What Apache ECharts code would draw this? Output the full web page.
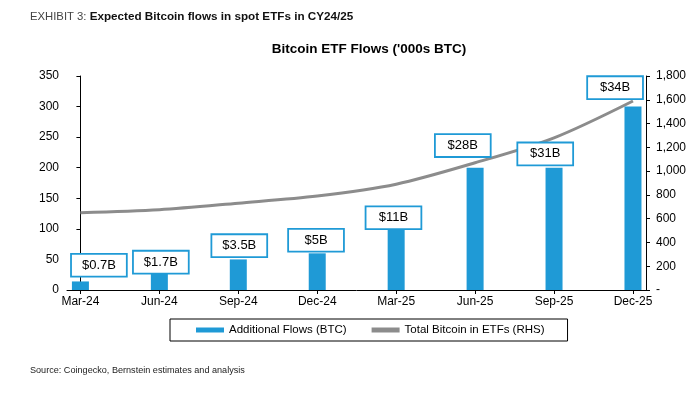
<!DOCTYPE html>
<html>
<head>
<meta charset="utf-8">
<script src="https://cdn.jsdelivr.net/npm/echarts@6/dist/echarts.min.js"></script>
<style>
  html, body { margin: 0; padding: 0; background: #fff; }
  #chart { width: 700px; height: 398px; }
</style>
</head>
<body>
<div id="chart"></div>
<script>
// data
var quarters = ['Mar-24', 'Jun-24', 'Sep-24', 'Dec-24', 'Mar-25', 'Jun-25', 'Sep-25', 'Dec-25'];
var flowsBtc = [14, 30, 50, 60, 100, 200, 200, 300];          // '000s BTC, left axis
var totalBtc = [650, 675, 730, 790, 890, 1070, 1280, 1590];    // '000s BTC, right axis
var flowsUsd = ['$0.7B', '$1.7B', '$3.5B', '$5B', '$11B', '$28B', '$31B', '$34B'];
var leftTicks = { max: 350, step: 50 };
var rightTicks = { max: 1800, step: 200 };

// where each callout box sits relative to its bar (px)
var calloutShift = [[18.5, -5.7], [1.5, 1], [1, -3.3], [-1.2, -2.6], [-2.7, -0.6], [-12.3, -11.6], [-8.8, -3.3], [-17.9, -8.4]];

var BLUE = '#1f9ad6';
var GREY = '#8c8c8c';
var FONT = '"Liberation Sans", Arial, sans-serif';
var NARROW = '"Liberation Sans Narrow", "Liberation Sans", sans-serif';

var chart = echarts.init(document.getElementById('chart'), null, { renderer: 'canvas' });

var idx = quarters.map(function (q, i) { return i; });

var barData = flowsBtc.map(function (v, i) {
  return {
    value: [i, v],
    label: { formatter: flowsUsd[i], offset: calloutShift[i] }
  };
});
var lineData = totalBtc.map(function (v, i) { return [i, v]; });

var option = {
  animation: false,
  backgroundColor: '#fff',
  title: [
    {
      left: 25, top: 6,
      text: '{a|EXHIBIT 3: }{b|Expected Bitcoin flows in spot ETFs in CY24/25}',
      textStyle: {
        rich: {
          a: { fontFamily: NARROW, fontSize: 11.3, color: '#444', fontWeight: 'normal' },
          b: { fontFamily: NARROW, fontSize: 11.7, color: '#111', fontWeight: 'bold' }
        }
      }
    },
    {
      left: 364, top: 37, textAlign: 'center',
      text: "Bitcoin ETF Flows ('000s BTC)",
      textStyle: { fontFamily: FONT, fontSize: 13.5, fontWeight: 'bold', color: '#000' }
    }
  ],
  legend: {
    left: 170, top: 319,
    padding: [5, 23, 5, 26],
    borderColor: '#000', borderWidth: 1,
    itemWidth: 28, itemHeight: 5, itemGap: 25,
    icon: 'rect',
    textStyle: { fontFamily: FONT, fontSize: 11.5, color: '#000' },
    data: ['Additional Flows (BTC)', 'Total Bitcoin in ETFs (RHS)']
  },
  grid: { left: 67, right: 54, top: 76, bottom: 108 },
  xAxis: {
    type: 'value',
    min: -0.17, max: 7.165,
    splitLine: { show: false },
    axisLine: { lineStyle: { color: '#000', width: 1 } },
    axisTick: { customValues: idx, length: 4, lineStyle: { color: '#000' } },
    axisLabel: {
      customValues: idx,
      margin: 6,
      fontFamily: FONT, fontSize: 12, color: '#000',
      formatter: function (v) { return quarters[Math.round(v)]; }
    }
  },
  yAxis: [
    {
      type: 'value', min: 0, max: leftTicks.max, interval: leftTicks.step,
      splitLine: { show: false },
      axisLine: { show: true, lineStyle: { color: '#000' } },
      axisTick: { show: true, length: 4, lineStyle: { color: '#000' } },
      axisLabel: { margin: 8, fontFamily: FONT, fontSize: 12, color: '#000' }
    },
    {
      type: 'value', min: 0, max: rightTicks.max, interval: rightTicks.step,
      position: 'right',
      splitLine: { show: false },
      axisLine: { show: true, lineStyle: { color: '#000' } },
      axisTick: { show: true, length: 4, lineStyle: { color: '#000' } },
      axisLabel: {
        margin: 10, fontFamily: FONT, fontSize: 12, color: '#000',
        formatter: function (v) { return v === 0 ? '-' : v.toLocaleString('en-US'); }
      }
    }
  ],
  series: [
    {
      name: 'Additional Flows (BTC)',
      type: 'bar',
      yAxisIndex: 0,
      barWidth: 17,
      itemStyle: { color: BLUE },
      label: {
        show: true, position: 'top', distance: 0,
        width: 54, height: 21, lineHeight: 21, align: 'center',
        backgroundColor: '#fff', borderColor: BLUE, borderWidth: 1.8,
        fontFamily: FONT, fontSize: 13, color: '#000'
      },
      data: barData,
      z: 2
    },
    {
      name: 'Total Bitcoin in ETFs (RHS)',
      type: 'line',
      yAxisIndex: 1,
      smooth: 0.3,
      symbol: 'none',
      lineStyle: { color: GREY, width: 3 },
      itemStyle: { color: GREY },
      data: lineData,
      z: 1
    }
  ],
  graphic: [
    {
      type: 'text', left: 30, top: 366,
      style: { text: 'Source: Coingecko, Bernstein estimates and analysis', font: '9.1px ' + NARROW, fill: '#222' }
    }
  ]
};

chart.setOption(option);
</script>
</body>
</html>
